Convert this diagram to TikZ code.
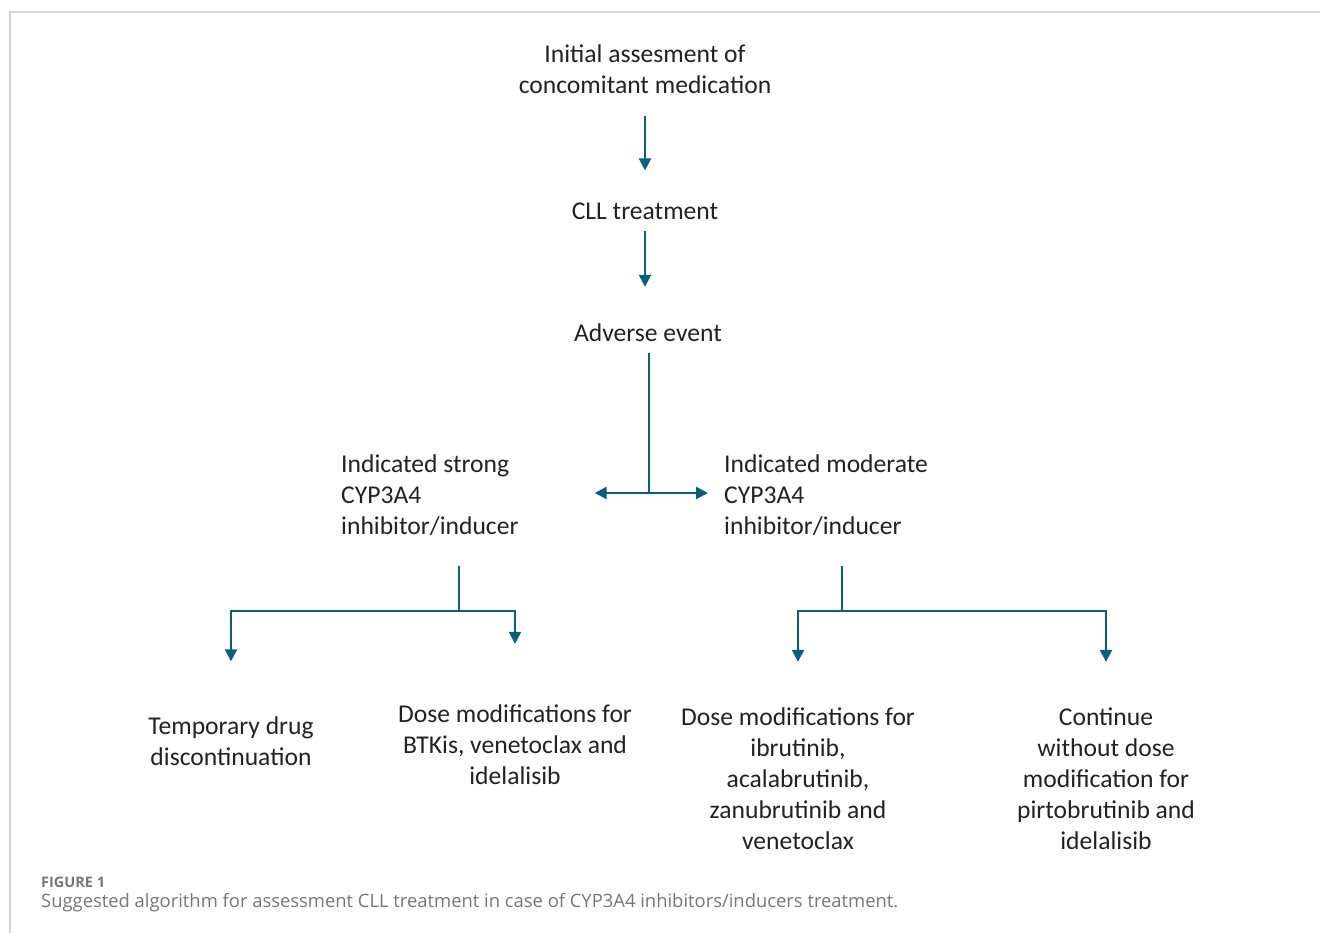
\documentclass[tikz,border=0pt]{standalone}
\usepackage{fontspec}
\setmainfont{Carlito}
\newfontfamily\capfont{Open Sans}
\usepackage{xcolor}
\usepackage{tikz}
\usetikzlibrary{positioning, arrows.meta}
\definecolor{flowblue}{HTML}{0B5F7E}
\definecolor{framegray}{HTML}{D4D4D4}
\definecolor{captiongray}{HTML}{767676}
\definecolor{textdark}{HTML}{222222}

\begin{document}
\begin{tikzpicture}[x=1pt, y=-1pt,
    every node/.style={inner sep=0pt, text=textdark, font=\fontsize{25.6}{31}\selectfont},
    stepbox/.style={align=center},
    sidebox/.style={align=left, anchor=west},
    link/.style={draw=flowblue, line width=2.4pt},
    arr/.style={link, -{Triangle[length=12pt, width=12pt]}}]
    \useasboundingbox (0,0) rectangle (1320,933);
    \draw[framegray, line width=1.5pt] (10,933) -- (10,12) -- (1320,12);

    \node[stepbox] (init) at (645,69) {Initial assesment of\\concomitant medication};
    \node[stepbox] (cll) at (645,211) {CLL treatment};
    \node[stepbox] (ae) at (648,333) {Adverse event};
    \node[sidebox] (strong) at (341,495) {Indicated strong\\CYP3A4\\inhibitor/inducer};
    \node[sidebox] (moderate) at (724,495) {Indicated moderate\\CYP3A4\\inhibitor/inducer};
    \node[stepbox] (stop) at (231,741) {Temporary drug\\discontinuation};
    \node[stepbox] (dosebtk) at (515,745) {Dose modifications for\\BTKis, venetoclax and\\idelalisib};
    \node[stepbox] (doseibr) at (798,779) {Dose modifications for\\ibrutinib,\\acalabrutinib,\\zanubrutinib and\\venetoclax};
    \node[stepbox] (keep) at (1106,779) {Continue\\without dose\\modification for\\pirtobrutinib and\\idelalisib};

    \coordinate (split) at (649,493);
    \coordinate (sj) at (459,611);
    \coordinate (mj) at (842,611);

    \draw[arr] ([yshift=-22pt]init.south) -- ([yshift=32pt]cll.north);
    \draw[arr] ([yshift=-11pt]cll.south) -- ([yshift=37pt]ae.north -| cll);
    \draw[link] ([yshift=-11pt]ae.south -| split) -- (split);
    \draw[arr] (split) -- ([xshift=76pt]strong.east |- split);
    \draw[arr] (split) -- ([xshift=-16pt]moderate.west |- split);
    \draw[link] ([yshift=-30pt]strong.south -| sj) -- (sj);
    \draw[arr] (sj) -| ([yshift=55pt]stop.north);
    \draw[arr] (sj) -| ([yshift=61pt]dosebtk.north);
    \draw[link] ([yshift=-30pt]moderate.south -| mj) -- (mj);
    \draw[arr] (mj) -| ([yshift=46pt]doseibr.north);
    \draw[arr] (mj) -| ([yshift=46pt]keep.north);

    \node[anchor=base west, text=captiongray, font=\capfont\bfseries\fontsize{14.5}{16}\selectfont] (figlabel) at (41,887) {FIGURE 1};
    \node[anchor=base west, text=captiongray, font=\capfont\fontsize{18.4}{21}\selectfont] (caption) at (41,907) {Suggested algorithm for assessment CLL treatment in case of CYP3A4 inhibitors/inducers treatment.};
\end{tikzpicture}
\end{document}
